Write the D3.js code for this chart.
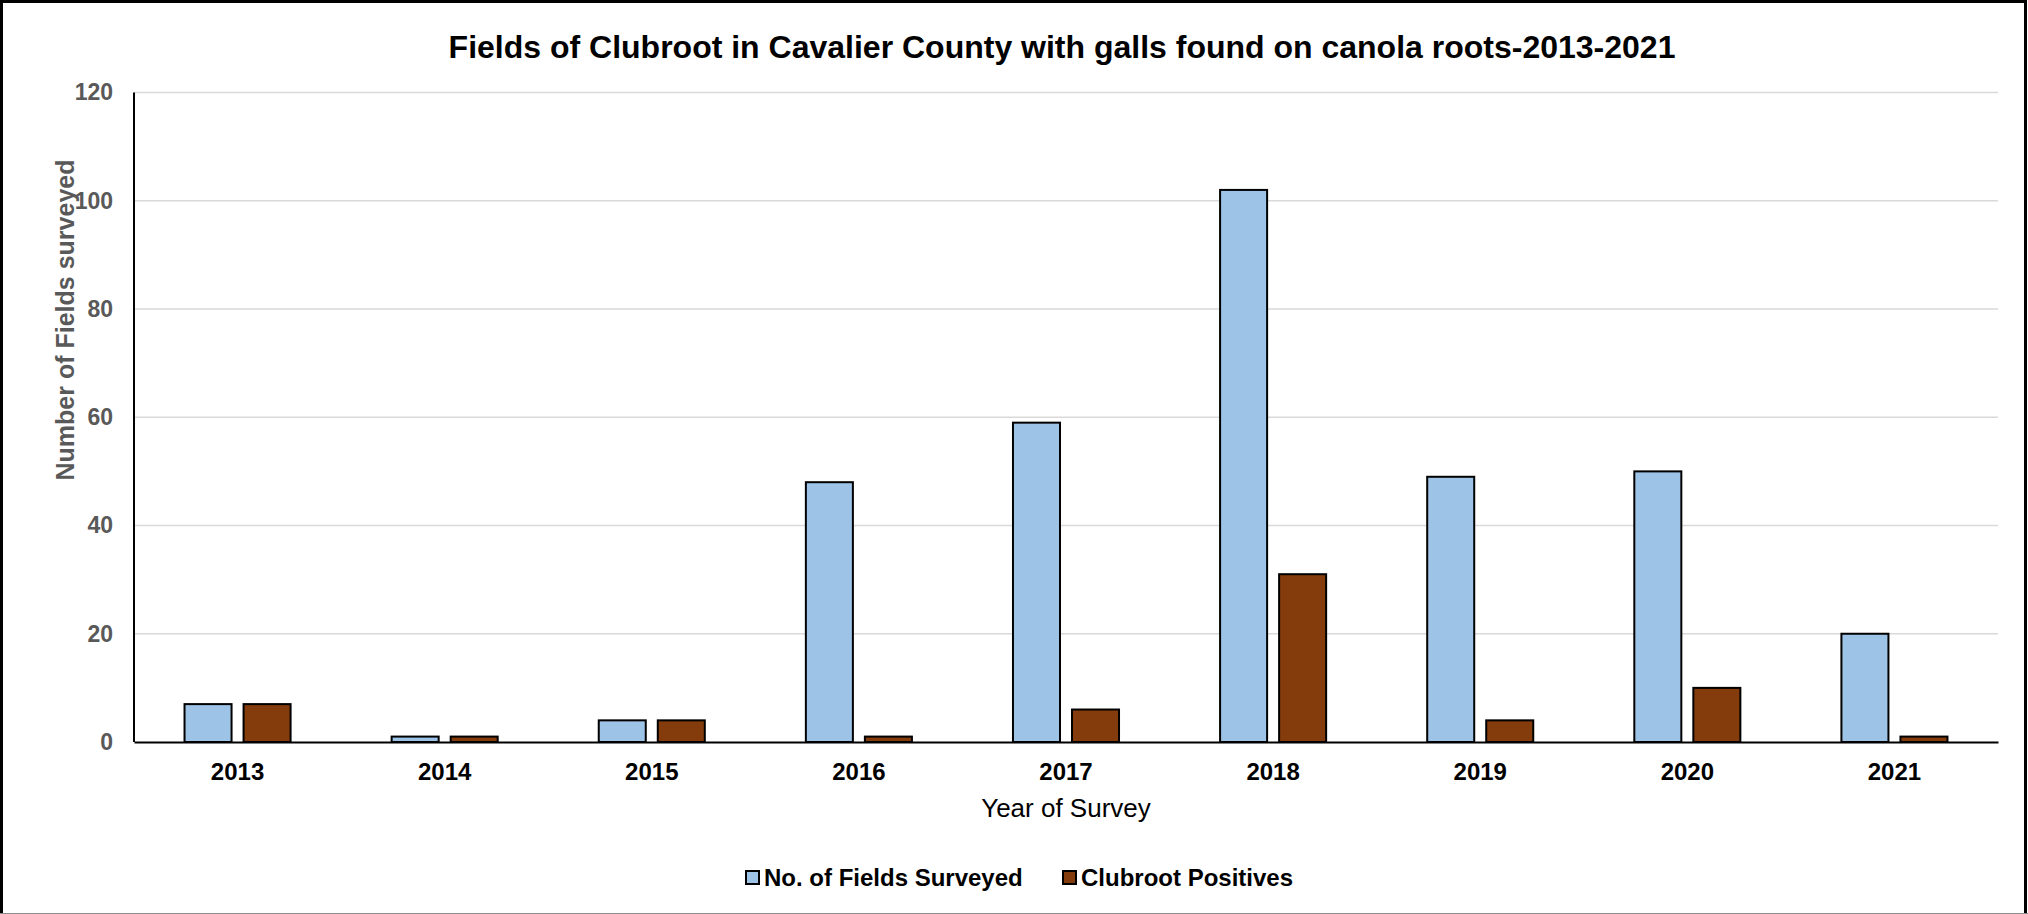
<!DOCTYPE html>
<html>
<head>
<meta charset="utf-8">
<script src="https://cdn.jsdelivr.net/npm/d3@7"></script>
<style>
  html, body { margin: 0; padding: 0; background: #fff; }
  svg { display: block; font-family: "Liberation Sans", Arial, sans-serif; }
</style>
</head>
<body>
<svg id="chart" width="2028" height="914"></svg>
<script>
// Survey years and counts per year
const years = ["2013", "2014", "2015", "2016", "2017", "2018", "2019", "2020", "2021"];
const fieldsSurveyed = [7, 1, 4, 48, 59, 102, 49, 50, 20];
const clubrootPositives = [7, 1, 4, 1, 6, 31, 4, 10, 1];
const seriesNames = ["No. of Fields Surveyed", "Clubroot Positives"];
const seriesColors = ["#9DC3E6", "#843C0C"];
const yTicks = [0, 20, 40, 60, 80, 100, 120];

const rows = years.map((y, i) => ({ year: y, values: [fieldsSurveyed[i], clubrootPositives[i]] }));

const W = 2028, H = 914;
const plot = { left: 134, right: 1998, top: 92.5, bottom: 742 };

const svg = d3.select("#chart");

// chart frame
svg.append("rect").attr("x", 0).attr("y", 0).attr("width", W).attr("height", H).attr("fill", "#fff");
svg.append("path")
  .attr("d", `M1.5,${H - 1} L1.5,1.5 L${W - 2.5},1.5 L${W - 2.5},${H - 1}`)
  .attr("fill", "none").attr("stroke", "#000").attr("stroke-width", 3);
svg.append("line").attr("x1", 0).attr("x2", W).attr("y1", H - 0.5).attr("y2", H - 0.5)
  .attr("stroke", "#8c8c8c").attr("stroke-width", 1);

const x = d3.scaleBand().domain(years).range([plot.left, plot.right]).paddingInner(0).paddingOuter(0);
const xSub = d3.scaleBand().domain(d3.range(seriesNames.length))
  .range([0, x.bandwidth()]).paddingInner(0.2034).paddingOuter(0.856);
const y = d3.scaleLinear().domain([0, 120]).range([plot.bottom, plot.top]);

// horizontal gridlines
svg.append("g").selectAll("line").data(yTicks.filter(t => t > 0)).join("line")
  .attr("x1", plot.left).attr("x2", plot.right)
  .attr("y1", d => y(d)).attr("y2", d => y(d))
  .attr("stroke", "#d9d9d9").attr("stroke-width", 1.5);

// y axis labels
const yAxis = d3.axisLeft(y).tickValues(yTicks).tickSize(0).tickPadding(21);
const gy = svg.append("g").attr("transform", `translate(${plot.left},0)`).call(yAxis);
gy.select(".domain").remove();
gy.selectAll("text")
  .attr("fill", "#595959").attr("font-size", 23).attr("font-weight", "bold")
  .attr("font-family", "'Liberation Sans', Arial, sans-serif");

// bars
const groups = svg.append("g").selectAll("g").data(rows).join("g")
  .attr("transform", d => `translate(${x(d.year)},0)`);
groups.selectAll("rect").data(d => d.values.map((v, k) => ({ v, k }))).join("rect")
  .attr("x", d => xSub(d.k))
  .attr("width", xSub.bandwidth())
  .attr("y", d => y(d.v))
  .attr("height", d => y(0) - y(d.v))
  .attr("fill", d => seriesColors[d.k])
  .attr("stroke", "#000").attr("stroke-width", 2);

// axis lines
svg.append("line").attr("x1", plot.left).attr("x2", plot.left).attr("y1", plot.top).attr("y2", plot.bottom)
  .attr("stroke", "#000").attr("stroke-width", 2);
const xAxis = d3.axisBottom(x).tickSize(0).tickPadding(21);
const gx = svg.append("g").attr("transform", `translate(0,${plot.bottom})`).call(xAxis);
gx.select(".domain").attr("stroke", "#000").attr("stroke-width", 2);
gx.selectAll("text")
  .attr("fill", "#000").attr("font-size", 24).attr("font-weight", "bold")
  .attr("font-family", "'Liberation Sans', Arial, sans-serif");

// titles
svg.append("text").attr("x", 1062).attr("y", 58).attr("text-anchor", "middle")
  .attr("font-size", 32).attr("font-weight", "bold").attr("fill", "#000")
  .text("Fields of Clubroot in Cavalier County with galls found on canola roots-2013-2021");

svg.append("text").attr("x", (plot.left + plot.right) / 2).attr("y", 817).attr("text-anchor", "middle")
  .attr("font-size", 26).attr("fill", "#000")
  .text("Year of Survey");

svg.append("text").attr("transform", "translate(74,320) rotate(-90)").attr("text-anchor", "middle")
  .attr("font-size", 25).attr("font-weight", "bold").attr("fill", "#595959")
  .text("Number of Fields surveyed");

// legend
const legendX = [746, 1063];
const legend = svg.append("g").selectAll("g").data(seriesNames).join("g")
  .attr("transform", (d, i) => `translate(${legendX[i]},0)`);
legend.append("rect").attr("x", 0).attr("y", 871).attr("width", 13).attr("height", 13)
  .attr("fill", (d, i) => seriesColors[i]).attr("stroke", "#000").attr("stroke-width", 2);
legend.append("text").attr("x", 18).attr("y", 885.5)
  .attr("font-size", 24).attr("font-weight", "bold").attr("fill", "#000")
  .text(d => d);
</script>
</body>
</html>
